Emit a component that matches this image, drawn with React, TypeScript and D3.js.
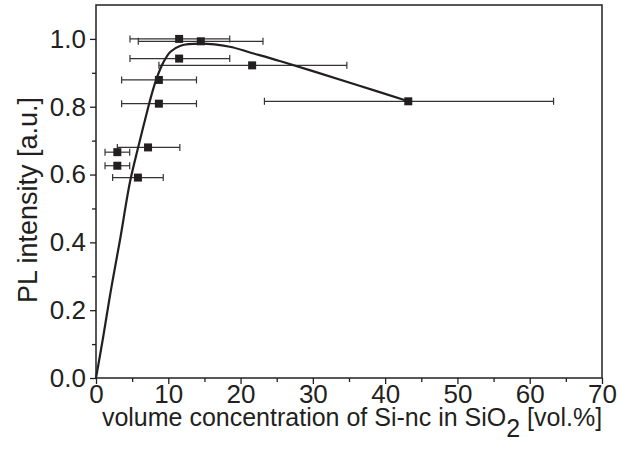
import React, { useEffect, useRef } from "react";
import * as d3 from "d3";

// measured samples: Si-nc volume concentration (x), PL intensity (y), x error bar ends
const concentration = [11.5, 14.5, 11.5, 21.6, 8.7, 8.7, 43.2, 7.2, 2.95, 2.95, 5.8];
const intensity = [1.0, 0.993, 0.942, 0.922, 0.879, 0.809, 0.816, 0.68, 0.666, 0.626, 0.591];
const errLow = [4.7, 5.85, 4.7, 8.7, 3.55, 3.55, 23.3, 2.95, 1.25, 1.25, 2.3];
const errHigh = [18.5, 23.1, 18.5, 34.7, 13.9, 13.9, 63.3, 11.6, 4.66, 4.66, 9.3];

// fitted curve
const fitX = [0, 0.97, 2.07, 3.32, 4.7, 5.81, 6.78, 7.75, 8.5, 9.3, 10.3, 11.7, 14.4, 18.5, 21.3, 25.4, 30, 36, 43.2];
const fitY = [0, 0.118, 0.26, 0.407, 0.578, 0.678, 0.761, 0.84, 0.89, 0.93, 0.962, 0.98, 0.986, 0.977, 0.96, 0.935, 0.905, 0.865, 0.816];

const xMajor = [0, 10, 20, 30, 40, 50, 60, 70];
const xMinor = [5, 15, 25, 35, 45, 55, 65];
const yMajor = [0, 0.2, 0.4, 0.6, 0.8, 1.0];
const yMinor = [0.1, 0.3, 0.5, 0.7, 0.9];

const W = 619;
const H = 454;
const margin = { top: 5, right: 17, bottom: 76, left: 96 };
const ink = "#231f20";
const font = "'Liberation Sans', Arial, Helvetica, sans-serif";

export default function App() {
  const ref = useRef<SVGSVGElement>(null);

  useEffect(() => {
    const svg = d3.select(ref.current);
    svg.selectAll("*").remove();

    const x = d3.scaleLinear().domain([0, 70]).range([margin.left, W - margin.right]);
    const y = d3.scaleLinear().domain([0, 1.1]).range([H - margin.bottom, margin.top]);

    // frame
    svg.append("rect")
      .attr("x", x(0))
      .attr("y", y(1.1))
      .attr("width", x(70) - x(0))
      .attr("height", y(0) - y(1.1))
      .attr("fill", "none")
      .attr("stroke", ink)
      .attr("stroke-width", 1.5);

    const styleAxis = (g: any) => {
      g.select(".domain").remove();
      g.selectAll("line").attr("stroke", ink).attr("stroke-width", 1.3);
      g.selectAll("text").attr("fill", ink).style("font-size", "26px").style("font-family", font);
    };

    svg.append("g")
      .attr("transform", `translate(0,${y(0)})`)
      .call(d3.axisBottom(x).tickValues(xMinor).tickSize(4).tickFormat(() => ""))
      .call(styleAxis);
    svg.append("g")
      .attr("transform", `translate(0,${y(0)})`)
      .call(d3.axisBottom(x).tickValues(xMajor).tickSize(6).tickPadding(1).tickFormat(d3.format("d")))
      .call(styleAxis);

    svg.append("g")
      .attr("transform", `translate(${x(0)},0)`)
      .call(d3.axisLeft(y).tickValues(yMinor).tickSize(4).tickFormat(() => ""))
      .call(styleAxis);
    svg.append("g")
      .attr("transform", `translate(${x(0)},0)`)
      .call(d3.axisLeft(y).tickValues(yMajor).tickSize(6).tickPadding(4).tickFormat(d3.format(".1f")))
      .call(styleAxis);

    // error bars
    const idx = d3.range(concentration.length);
    const bars = svg.append("g").attr("stroke", "#333").attr("stroke-width", 1.2);
    bars.selectAll(".err")
      .data(idx)
      .enter()
      .append("line")
      .attr("x1", i => x(errLow[i]))
      .attr("x2", i => x(errHigh[i]))
      .attr("y1", i => y(intensity[i]))
      .attr("y2", i => y(intensity[i]));
    bars.selectAll(".capL")
      .data(idx)
      .enter()
      .append("line")
      .attr("x1", i => x(errLow[i]))
      .attr("x2", i => x(errLow[i]))
      .attr("y1", i => y(intensity[i]) - 3.5)
      .attr("y2", i => y(intensity[i]) + 3.5);
    bars.selectAll(".capR")
      .data(idx)
      .enter()
      .append("line")
      .attr("x1", i => x(errHigh[i]))
      .attr("x2", i => x(errHigh[i]))
      .attr("y1", i => y(intensity[i]) - 3.5)
      .attr("y2", i => y(intensity[i]) + 3.5);

    // fit curve
    const line = d3.line<number>()
      .x(i => x(fitX[i]))
      .y(i => y(fitY[i]))
      .curve(d3.curveCatmullRom.alpha(0.5));
    svg.append("path")
      .attr("d", line(d3.range(fitX.length)))
      .attr("fill", "none")
      .attr("stroke", ink)
      .attr("stroke-width", 2.2);

    // markers
    const s = 8;
    svg.selectAll(".pt")
      .data(idx)
      .enter()
      .append("rect")
      .attr("x", i => x(concentration[i]) - s / 2)
      .attr("y", i => y(intensity[i]) - s / 2)
      .attr("width", s)
      .attr("height", s)
      .attr("fill", ink);

    // axis titles
    const xt = svg.append("text")
      .attr("x", (x(0) + x(70)) / 2 + 3)
      .attr("y", 426)
      .attr("text-anchor", "middle")
      .attr("fill", ink)
      .style("font-size", "25px")
      .style("font-family", font);
    xt.append("tspan").text("volume concentration of Si-nc in SiO");
    xt.append("tspan").attr("dy", 11).text("2");
    xt.append("tspan").attr("dy", -11).text(" [vol.%]");

    svg.append("text")
      .attr("transform", `translate(37,${200}) rotate(-90)`)
      .attr("text-anchor", "middle")
      .attr("fill", ink)
      .style("font-size", "27px")
      .style("font-family", font)
      .text("PL intensity [a.u.]");
  }, []);

  return (
    <svg
      ref={ref}
      width={W}
      height={H}
      style={{ position: "absolute", left: 0, top: 0, background: "#fff" }}
    />
  );
}
